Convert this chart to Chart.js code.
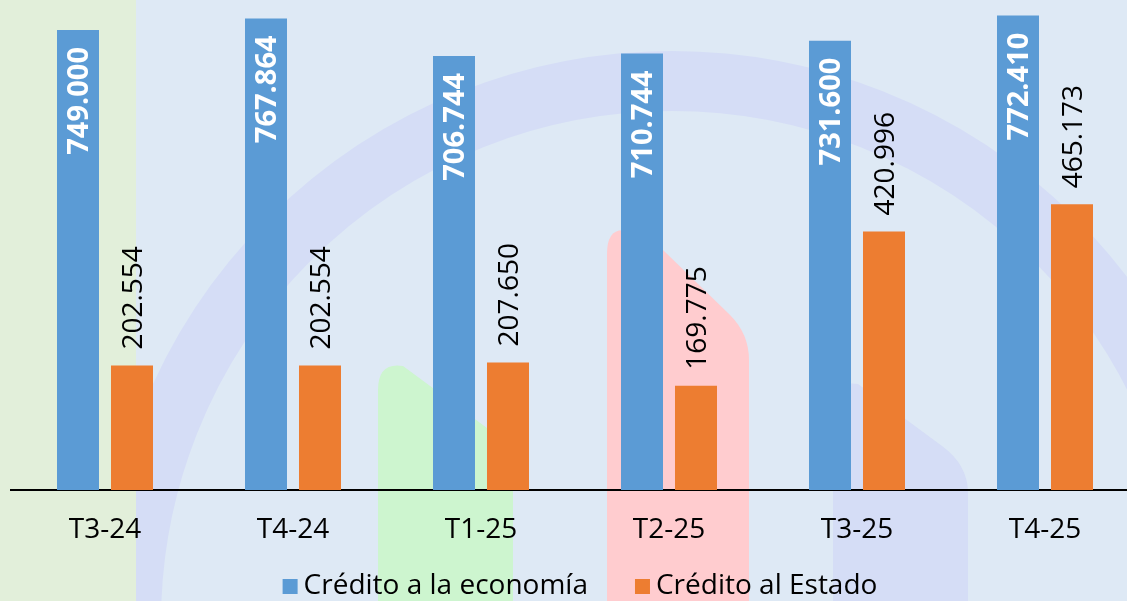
<!DOCTYPE html>
<html>
<head>
<meta charset="utf-8">
<script src="https://cdn.jsdelivr.net/npm/chart.js@4/dist/chart.umd.min.js"></script>
<style>
  html, body { margin: 0; padding: 0; overflow: hidden; background: #dee9f5; }
  #wrap { position: relative; width: 1140px; height: 601px; }
</style>
</head>
<body>
<div id="wrap"><canvas id="chart"></canvas></div>
<script>
const categories = ['T3-24', 'T4-24', 'T1-25', 'T2-25', 'T3-25', 'T4-25'];
const creditoEconomia = [749000, 767864, 706744, 710744, 731600, 772410];
const creditoEstado = [202554, 202554, 207650, 169775, 420996, 465173];
const seriesNames = ['Crédito a la economía', 'Crédito al Estado'];
const seriesColors = ['#5b9bd5', '#ed7d31'];

const FONT = 'Open Sans';

function fmt(v) {
    return String(v).replace(/\B(?=(\d{3})+(?!\d))/g, '.');
}

// decorative background (logo-like shapes behind the chart)
const backdrop = {
    id: 'backdrop',
    beforeDraw(chart) {
        const ctx = chart.ctx;
        ctx.save();
        ctx.fillStyle = '#dee9f5';
        ctx.fillRect(0, 0, chart.width, chart.height);

        // big ring
        ctx.strokeStyle = '#d5ddf6';
        ctx.lineWidth = 60;
        ctx.beginPath();
        ctx.arc(672, 622, 541, 0, Math.PI * 2);
        ctx.stroke();

        // left green strip
        ctx.fillStyle = '#e2efda';
        ctx.fillRect(0, 0, 136, chart.height);

        // green tab
        ctx.fillStyle = '#cdf5cf';
        ctx.beginPath();
        ctx.moveTo(378, 601);
        ctx.lineTo(378, 390);
        ctx.quadraticCurveTo(378, 362, 403, 366);
        ctx.lineTo(487, 428);
        ctx.quadraticCurveTo(513, 447, 513, 475);
        ctx.lineTo(513, 601);
        ctx.closePath();
        ctx.fill();

        // pink tab
        ctx.fillStyle = '#ffcccf';
        ctx.beginPath();
        ctx.moveTo(607, 601);
        ctx.lineTo(607, 254);
        ctx.quadraticCurveTo(607, 224, 632, 232);
        ctx.lineTo(663, 250);
        ctx.lineTo(730, 315);
        ctx.quadraticCurveTo(749, 334, 749, 360);
        ctx.lineTo(749, 601);
        ctx.closePath();
        ctx.fill();

        // lavender tab
        ctx.fillStyle = '#d5ddf6';
        ctx.beginPath();
        ctx.moveTo(833, 601);
        ctx.lineTo(833, 408);
        ctx.quadraticCurveTo(833, 380, 858, 384);
        ctx.lineTo(942, 446);
        ctx.quadraticCurveTo(968, 465, 968, 493);
        ctx.lineTo(968, 601);
        ctx.closePath();
        ctx.fill();
        ctx.restore();
    }
};

// rotated value labels
const valueLabels = {
    id: 'valueLabels',
    afterDatasetsDraw(chart) {
        const ctx = chart.ctx;
        chart.data.datasets.forEach((ds, i) => {
            const meta = chart.getDatasetMeta(i);
            meta.data.forEach((bar, j) => {
                ctx.save();
                ctx.textBaseline = 'middle';
                if (i === 0) {
                    ctx.translate(bar.x + 2, bar.y + 17);
                    ctx.rotate(-Math.PI / 2);
                    ctx.textAlign = 'right';
                    ctx.fillStyle = '#ffffff';
                    ctx.font = 'bold 29px "' + FONT + '"';
                } else {
                    ctx.translate(bar.x + 2, bar.y - 16);
                    ctx.rotate(-Math.PI / 2);
                    ctx.textAlign = 'left';
                    ctx.fillStyle = '#000000';
                    ctx.font = '28px "' + FONT + '"';
                }
                ctx.fillText(fmt(ds.data[j]), 0, 0);
                ctx.restore();
            });
        });
    }
};

// legend drawn under the axis, centred like the original
const bottomLegend = {
    id: 'bottomLegend',
    afterDraw(chart) {
        const ctx = chart.ctx;
        ctx.save();
        ctx.font = '28px "' + FONT + '"';
        const box = 15, gap = 6, spacing = 47;
        const items = chart.data.datasets.map(ds => ({
            text: ds.label, color: ds.backgroundColor, w: ctx.measureText(ds.label).width
        }));
        let total = 0;
        items.forEach((it, k) => { total += box + gap + it.w + (k ? spacing : 0); });
        let x = 580 - total / 2;
        const baseline = 594;
        items.forEach(it => {
            ctx.fillStyle = it.color;
            ctx.fillRect(x, baseline - 15, box, box);
            ctx.fillStyle = '#000000';
            ctx.textBaseline = 'alphabetic';
            ctx.textAlign = 'left';
            ctx.fillText(it.text, x + box + gap, baseline);
            x += box + gap + it.w + spacing;
        });
        ctx.restore();
    }
};

new Chart(document.getElementById('chart'), {
    type: 'bar',
    data: {
        labels: categories,
        datasets: [{
            label: seriesNames[0],
            data: creditoEconomia,
            backgroundColor: seriesColors[0],
            categoryPercentage: 0.5745,
            barPercentage: 0.7778
        }, {
            label: seriesNames[1],
            data: creditoEstado,
            backgroundColor: seriesColors[1],
            categoryPercentage: 0.5745,
            barPercentage: 0.7778
        }]
    },
    options: {
        responsive: true,
        maintainAspectRatio: false,
        animation: false,
        layout: { padding: { left: 11, right: 1, top: 0, bottom: 0 } },
        plugins: {
            legend: { display: false },
            tooltip: { enabled: false }
        },
        scales: {
            x: {
                grid: { display: false },
                border: { color: '#000000', width: 2 },
                ticks: { color: '#000000', padding: 15, font: { family: FONT, size: 28 } },
                afterFit(scale) { scale.height = 111; }
            },
            y: { display: false, min: 0, max: 797850 }
        }
    },
    plugins: [backdrop, valueLabels, bottomLegend]
});
</script>
</body>
</html>
